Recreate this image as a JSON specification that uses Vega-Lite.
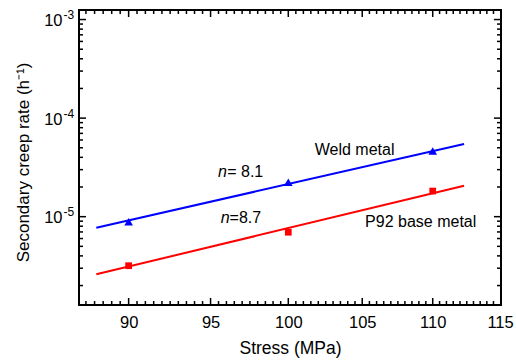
{
  "$schema": "https://vega.github.io/schema/vega-lite/v6.json",
  "width": 422,
  "height": 295,
  "autosize": {"type": "none"},
  "padding": {"left": 79, "top": 10, "right": 15, "bottom": 55},
  "background": "white",
  "config": {
    "font": "Liberation Sans",
    "view": {"stroke": "black", "strokeWidth": 2},
    "axis": {"domain": false, "grid": false, "ticks": false, "labelColor": "black", "titleColor": "black", "labelFont": "Liberation Sans", "titleFont": "Liberation Sans", "titleFontWeight": "normal"}
  },
  "datasets": {
    "main": [
      {"kind": "fit", "series": "Weld metal", "stress": 88.1, "rate": 7.73e-6},
      {"kind": "fit", "series": "Weld metal", "stress": 112.3, "rate": 5.46e-5},
      {"kind": "fit", "series": "P92 base metal", "stress": 88.1, "rate": 2.6e-6},
      {"kind": "fit", "series": "P92 base metal", "stress": 112.3, "rate": 2.06e-5},
      {"kind": "pt", "series": "Weld metal", "stress": 90, "rate": 8.9e-6},
      {"kind": "pt", "series": "Weld metal", "stress": 100, "rate": 2.23e-5},
      {"kind": "pt", "series": "Weld metal", "stress": 110, "rate": 4.64e-5},
      {"kind": "pt", "series": "P92 base metal", "stress": 90, "rate": 3.18e-6},
      {"kind": "pt", "series": "P92 base metal", "stress": 100, "rate": 6.95e-6},
      {"kind": "pt", "series": "P92 base metal", "stress": 110, "rate": 1.82e-5},
      {"kind": "txt", "stress": 101.76, "rate": 4.23e-5, "text": "Weld metal"},
      {"kind": "txt", "stress": 105.2, "rate": 7.92e-6, "text": "P92 base metal"},
      {"kind": "txt", "stress": 96.05, "rate": 2.55e-5, "text": "= 8.1"},
      {"kind": "txt", "stress": 96.2, "rate": 8.57e-6, "text": "=8.7"},
      {"kind": "ital", "stress": 95.46, "rate": 2.55e-5, "text": "n"},
      {"kind": "ital", "stress": 95.64, "rate": 8.57e-6, "text": "n"}
    ],
    "xmajor": [{"stress": 90}, {"stress": 95}, {"stress": 100}, {"stress": 105}, {"stress": 110}],
    "xminor": [{"stress": 87.5}, {"stress": 88}, {"stress": 88.5}, {"stress": 89}, {"stress": 89.5}, {"stress": 90.5}, {"stress": 91}, {"stress": 91.5}, {"stress": 92}, {"stress": 92.5}, {"stress": 93}, {"stress": 93.5}, {"stress": 94}, {"stress": 94.5}, {"stress": 95.5}, {"stress": 96}, {"stress": 96.5}, {"stress": 97}, {"stress": 97.5}, {"stress": 98}, {"stress": 98.5}, {"stress": 99}, {"stress": 99.5}, {"stress": 100.5}, {"stress": 101}, {"stress": 101.5}, {"stress": 102}, {"stress": 102.5}, {"stress": 103}, {"stress": 103.5}, {"stress": 104}, {"stress": 104.5}, {"stress": 105.5}, {"stress": 106}, {"stress": 106.5}, {"stress": 107}, {"stress": 107.5}, {"stress": 108}, {"stress": 108.5}, {"stress": 109}, {"stress": 109.5}, {"stress": 110.5}, {"stress": 111}, {"stress": 111.5}, {"stress": 112}, {"stress": 112.5}, {"stress": 113}, {"stress": 113.5}, {"stress": 114}, {"stress": 114.5}],
    "ymajor": [{"rate": 1e-5}, {"rate": 1e-4}, {"rate": 1e-3}],
    "yminor": [{"rate": 2e-6}, {"rate": 3e-6}, {"rate": 4e-6}, {"rate": 5e-6}, {"rate": 6e-6}, {"rate": 7e-6}, {"rate": 8e-6}, {"rate": 9e-6}, {"rate": 2e-5}, {"rate": 3e-5}, {"rate": 4e-5}, {"rate": 5e-5}, {"rate": 6e-5}, {"rate": 7e-5}, {"rate": 8e-5}, {"rate": 9e-5}, {"rate": 2e-4}, {"rate": 3e-4}, {"rate": 4e-4}, {"rate": 5e-4}, {"rate": 6e-4}, {"rate": 7e-4}, {"rate": 8e-4}, {"rate": 9e-4}]
  },
  "resolve": {"axis": {"x": "independent", "y": "independent"}},
  "layer": [
    {
      "data": {"name": "main"},
      "transform": [{"filter": "datum.kind == 'fit'"}],
      "mark": {"type": "line", "strokeWidth": 2},
      "encoding": {
        "x": {"field": "stress", "type": "quantitative",
          "scale": {"type": "log", "domain": [87.1, 115.07], "nice": false, "zero": false},
          "axis": {"orient": "bottom", "title": "Stress (MPa)", "values": [90, 95, 100, 105, 110, 115], "labelFontSize": 16.5, "labelPadding": 9, "labelBaseline": "top", "labelFlush": false, "labelOverlap": false, "format": "d", "titleFontSize": 17.5, "titleY": 48.5, "titleBaseline": "alphabetic"}},
        "y": {"field": "rate", "type": "quantitative",
          "scale": {"type": "log", "domain": [1.27e-6, 1.25e-3], "nice": false, "zero": false},
          "axis": {"orient": "left", "title": "Secondary creep rate (h⁻¹)", "values": [1e-5, 1e-4, 1e-3], "labelExpr": "'10'", "labelAlign": "right", "labelBaseline": "middle", "labelOffset": 1, "labelPadding": 17, "labelFontSize": 16.5, "labelFlush": false, "labelOverlap": false, "titleFontSize": 17, "titleX": -51, "titleY": 152, "titleBaseline": "alphabetic", "titleAngle": -90}},
        "color": {"field": "series", "type": "nominal", "scale": {"domain": ["Weld metal", "P92 base metal"], "range": ["#0000ff", "#ff0000"]}, "legend": null},
        "detail": {"field": "series"}
      }
    },
    {
      "data": {"name": "main"},
      "transform": [{"filter": "datum.kind == 'pt'"}],
      "mark": {"type": "point", "filled": true, "opacity": 1, "strokeWidth": 0},
      "encoding": {
        "x": {"field": "stress", "type": "quantitative", "axis": null},
        "y": {"field": "rate", "type": "quantitative", "axis": null},
        "color": {"field": "series", "type": "nominal", "legend": null},
        "shape": {"field": "series", "type": "nominal", "scale": {"domain": ["Weld metal", "P92 base metal"], "range": ["triangle-up", "square"]}, "legend": null},
        "size": {"field": "series", "type": "nominal", "scale": {"domain": ["Weld metal", "P92 base metal"], "range": [75, 45]}, "legend": null}
      }
    },
    {
      "data": {"name": "main"},
      "transform": [{"filter": "datum.kind == 'txt'"}],
      "mark": {"type": "text", "align": "left", "baseline": "alphabetic", "fontSize": 16, "color": "black", "font": "Liberation Sans"},
      "encoding": {
        "x": {"field": "stress", "type": "quantitative", "axis": null},
        "y": {"field": "rate", "type": "quantitative", "axis": null},
        "text": {"field": "text"}
      }
    },
    {
      "data": {"name": "main"},
      "transform": [{"filter": "datum.kind == 'ital'"}],
      "mark": {"type": "text", "align": "left", "baseline": "alphabetic", "fontSize": 16, "fontStyle": "italic", "color": "black", "font": "Liberation Sans"},
      "encoding": {
        "x": {"field": "stress", "type": "quantitative", "axis": null},
        "y": {"field": "rate", "type": "quantitative", "axis": null},
        "text": {"field": "text"}
      }
    },
    {
      "data": {"name": "ymajor"},
      "mark": {"type": "point", "opacity": 0},
      "encoding": {
        "x": {"datum": 100, "type": "quantitative", "axis": null},
        "y": {"field": "rate", "type": "quantitative",
          "axis": {"orient": "left", "title": null, "values": [1e-5, 1e-4, 1e-3],
            "labelExpr": "'-' + format(-round(log(datum.value)/LN10), 'd')",
            "labelAlign": "left", "labelBaseline": "middle", "labelOffset": -5, "labelPadding": 16, "labelFontSize": 12, "labelFlush": false, "labelOverlap": false}}
      }
    },
    {
      "data": {"name": "xmajor"},
      "mark": {"type": "tick", "orient": "vertical", "size": 7, "thickness": 1.5, "color": "black", "opacity": 1},
      "encoding": {
        "x": {"field": "stress", "type": "quantitative", "axis": null},
        "y": {"datum": 1.378e-6, "type": "quantitative", "axis": null}
      }
    },
    {
      "data": {"name": "xmajor"},
      "mark": {"type": "tick", "orient": "vertical", "size": 7, "thickness": 1.5, "color": "black", "opacity": 1},
      "encoding": {
        "x": {"field": "stress", "type": "quantitative", "axis": null},
        "y": {"datum": 1.152e-3, "type": "quantitative", "axis": null}
      }
    },
    {
      "data": {"name": "xminor"},
      "mark": {"type": "tick", "orient": "vertical", "size": 4, "thickness": 1.5, "color": "black", "opacity": 1},
      "encoding": {
        "x": {"field": "stress", "type": "quantitative", "axis": null},
        "y": {"datum": 1.331e-6, "type": "quantitative", "axis": null}
      }
    },
    {
      "data": {"name": "xminor"},
      "mark": {"type": "tick", "orient": "vertical", "size": 4, "thickness": 1.5, "color": "black", "opacity": 1},
      "encoding": {
        "x": {"field": "stress", "type": "quantitative", "axis": null},
        "y": {"datum": 1.193e-3, "type": "quantitative", "axis": null}
      }
    },
    {
      "data": {"name": "ymajor"},
      "mark": {"type": "tick", "orient": "horizontal", "size": 7, "thickness": 1.5, "color": "black", "opacity": 1},
      "encoding": {
        "x": {"datum": 87.3, "type": "quantitative", "axis": null},
        "y": {"field": "rate", "type": "quantitative", "axis": null}
      }
    },
    {
      "data": {"name": "ymajor"},
      "mark": {"type": "tick", "orient": "horizontal", "size": 7, "thickness": 1.5, "color": "black", "opacity": 1},
      "encoding": {
        "x": {"datum": 114.8, "type": "quantitative", "axis": null},
        "y": {"field": "rate", "type": "quantitative", "axis": null}
      }
    },
    {
      "data": {"name": "yminor"},
      "mark": {"type": "tick", "orient": "horizontal", "size": 4, "thickness": 1.5, "color": "black", "opacity": 1},
      "encoding": {
        "x": {"datum": 87.215, "type": "quantitative", "axis": null},
        "y": {"field": "rate", "type": "quantitative", "axis": null}
      }
    },
    {
      "data": {"name": "yminor"},
      "mark": {"type": "tick", "orient": "horizontal", "size": 4, "thickness": 1.5, "color": "black", "opacity": 1},
      "encoding": {
        "x": {"datum": 114.92, "type": "quantitative", "axis": null},
        "y": {"field": "rate", "type": "quantitative", "axis": null}
      }
    }
  ]
}
